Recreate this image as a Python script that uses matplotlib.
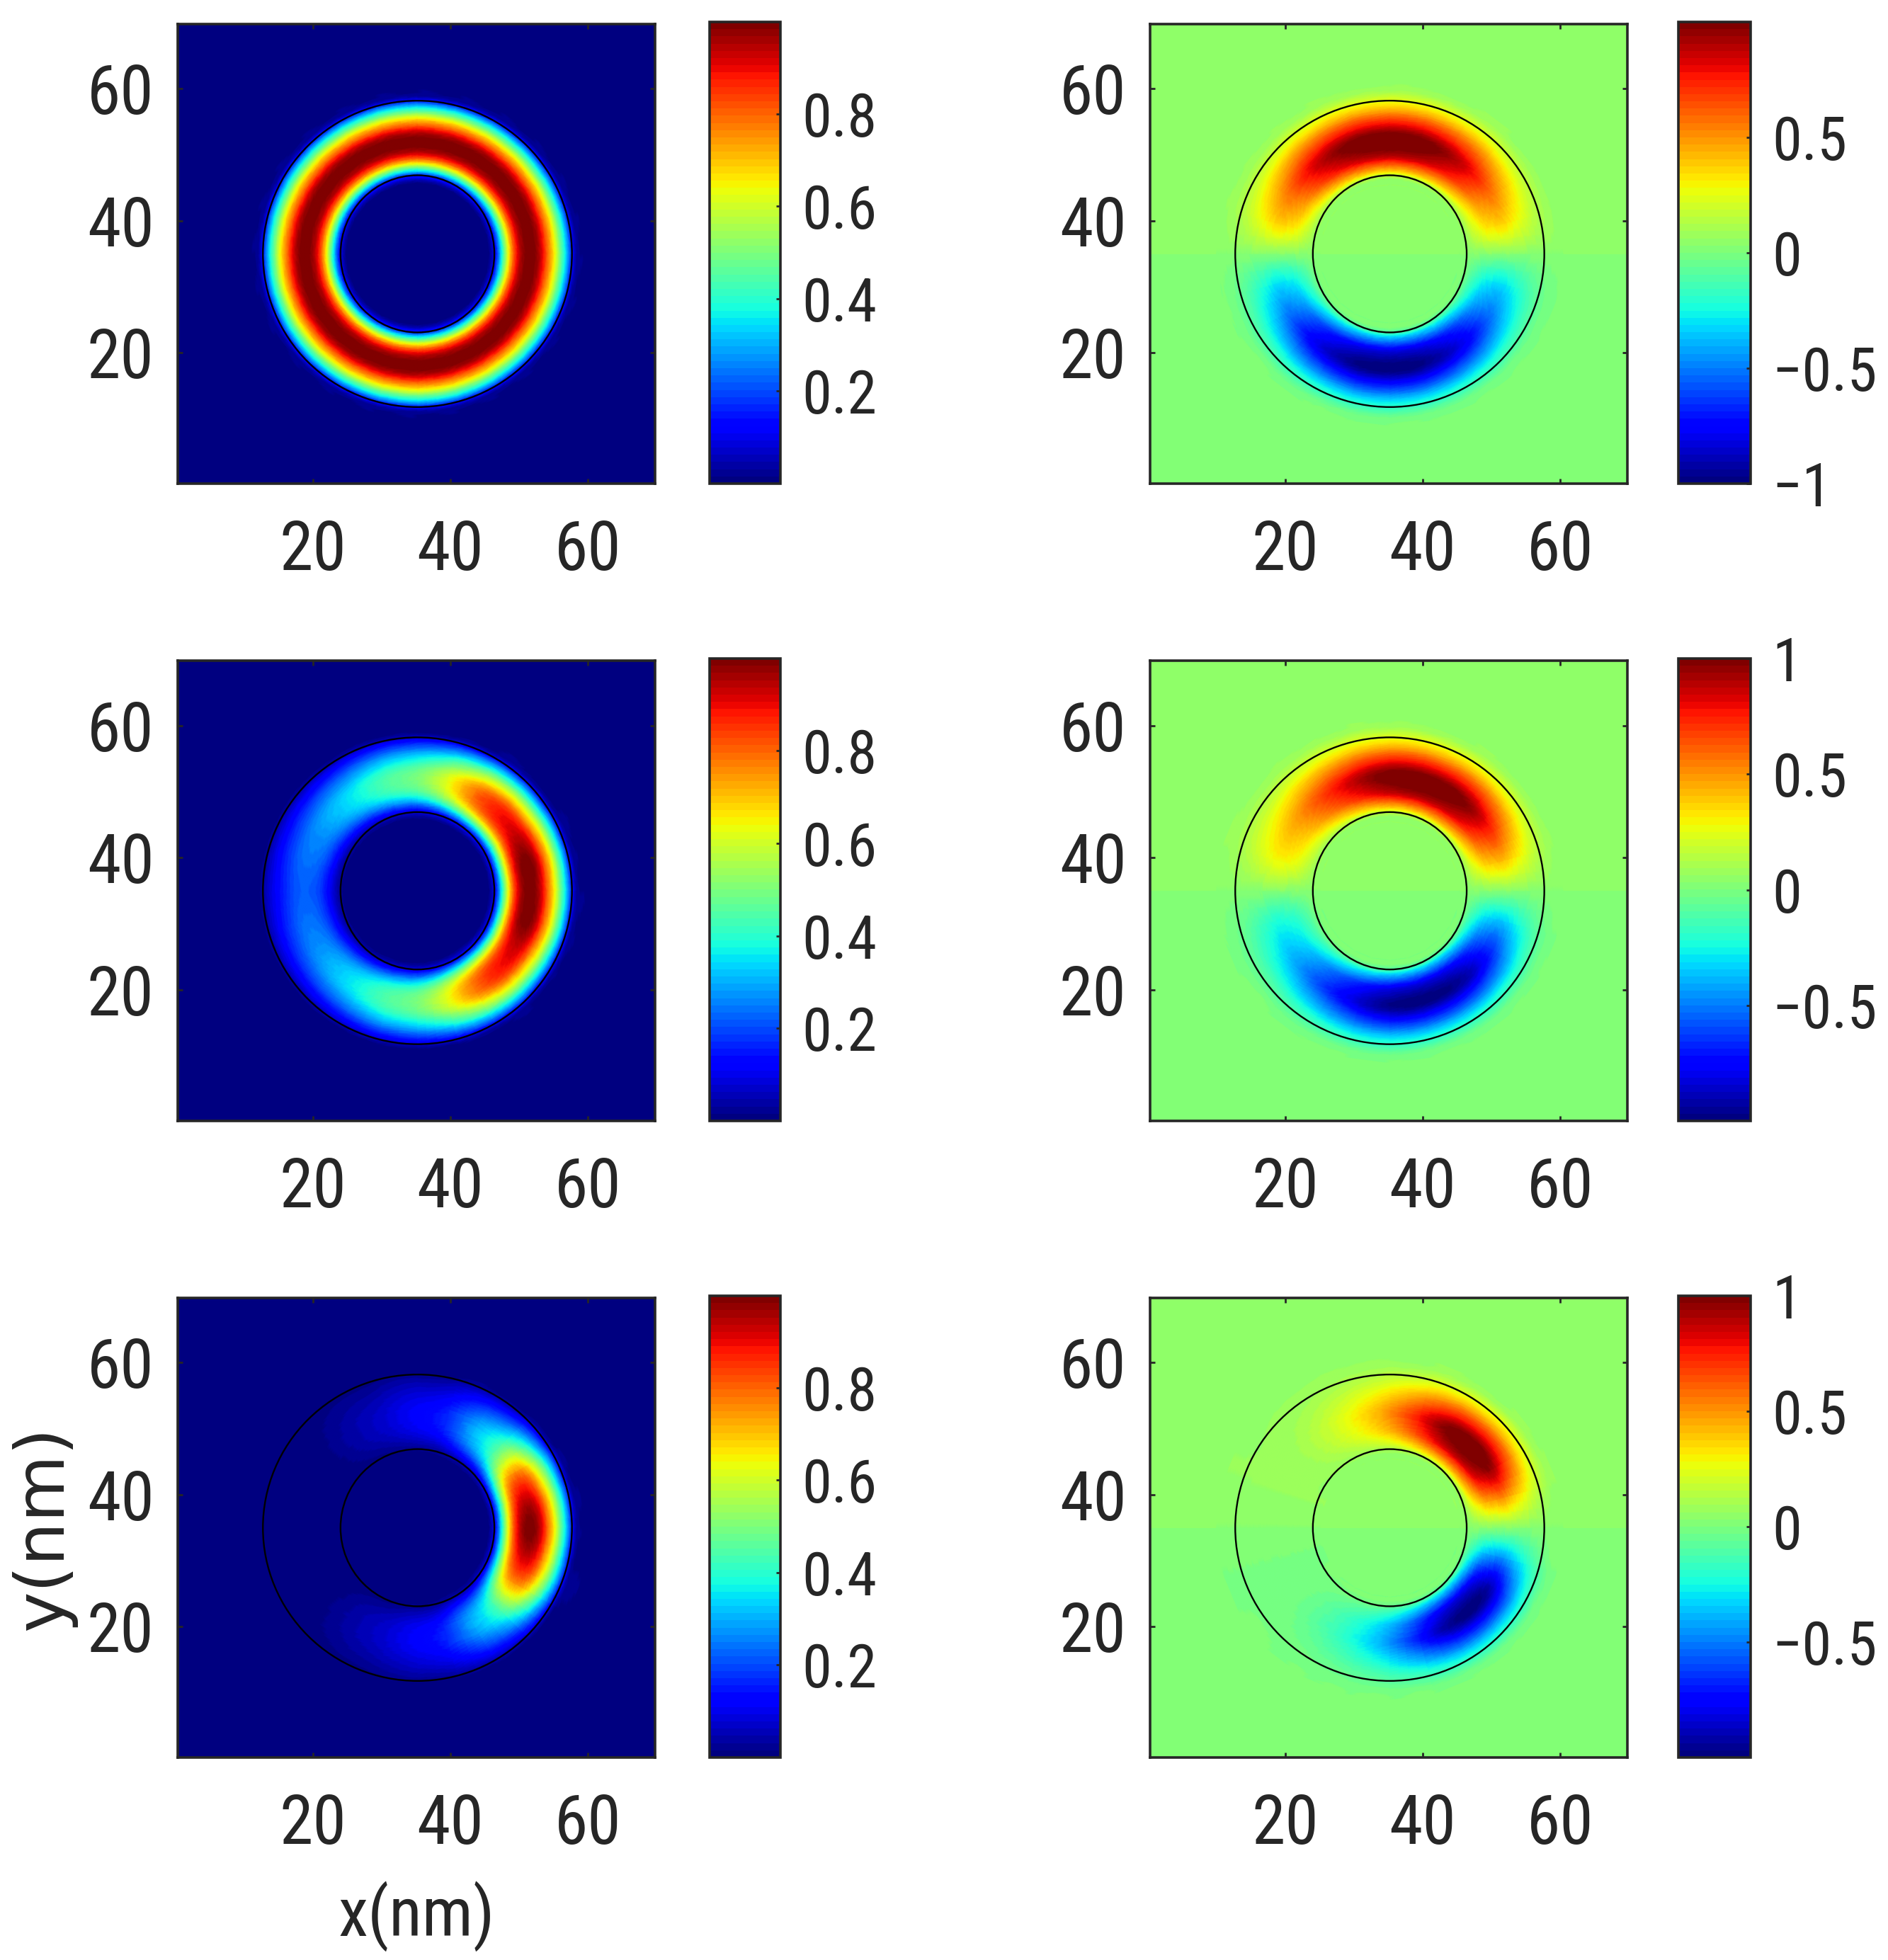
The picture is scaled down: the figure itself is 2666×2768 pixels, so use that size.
import matplotlib
matplotlib.use('Agg')
import matplotlib.pyplot as plt
import numpy as np
from matplotlib.cm import ScalarMappable
from matplotlib.colors import Normalize
from matplotlib.patches import Ellipse
from matplotlib.tri import Triangulation, UniformTriRefiner

# sample rings (nm from the centre) and sample angles (deg, upper half only)
RADII = [10.5, 11.5, 12.5, 13.5, 14.5, 15.5, 17.0, 18.5, 19.5, 20.5, 21.5, 22.5, 23.5, 24.5, 26.0]
ANGLES = [0, 15, 30, 45, 60, 75, 90, 105, 120, 135, 150, 165, 180]

# radial shape of the left and right columns
radial_density = [0, 0.10, 0.33, 0.60, 0.82, 0.95, 1.0, 0.93, 0.80, 0.66, 0.48, 0.30, 0.08, 0.015, 0]
radial_wave = [0, 0.03, 0.30, 0.55, 0.78, 0.90, 1.0, 0.90, 0.75, 0.60, 0.43, 0.28, 0.16, 0.05, 0]

# strength along the ring, one list per panel
density_top = [1, 1, 1, 1, 1, 1, 1, 1, 1, 1, 1, 1, 1]
density_mid = [1.0, 1.0, 0.93, 0.88, 0.78, 0.62, 0.50, 0.45, 0.38, 0.32, 0.27, 0.24, 0.22]
density_low = [1.0, 0.93, 0.75, 0.45, 0.30, 0.17, 0.12, 0.08, 0.05, 0.02, 0, 0, 0]
wave_top = [0, 0.30, 0.50, 0.72, 0.88, 0.98, 1.0, 0.98, 0.88, 0.72, 0.50, 0.30, 0]
wave_mid = [0, 0.35, 0.65, 0.88, 0.98, 1.0, 0.97, 0.85, 0.68, 0.50, 0.35, 0.22, 0]
wave_low = [0, 0.45, 0.88, 1.0, 0.93, 0.70, 0.45, 0.27, 0.14, 0.05, 0.01, 0, 0]

# background level above and below the middle line
density_bg = [0, 0]
wave_bg = [0.06, 0.0]

axis_ticks = [20, 40, 60]
density_ticks = [0.2, 0.4, 0.6, 0.8]
density_labels = ['0.2', '0.4', '0.6', '0.8']
wave_ticks_top = [-1, -0.5, 0, 0.5]
wave_labels_top = ['\u22121', '\u22120.5', '0', '0.5']
wave_ticks = [-0.5, 0, 0.5, 1]
wave_labels = ['\u22120.5', '0', '0.5', '1']

# ring outline, x and y scales of the source are slightly different
center = (35.2, 35.0)
outer_size = (45.0, 46.4)
inner_size = (22.4, 23.8)
x_squeeze = 22.5 / 23.2

W, H = 2666, 2768
ROW_TOP = [34, 933, 1833]
ROW_BOTTOM = [683, 1583, 2482]
DARK = '#262626'
NARROW = ['Roboto Condensed', 'Roboto', 'DejaVu Sans']
cmap = plt.get_cmap('jet', 64)


def px_axes(fig, left, top, right, bottom):
    return fig.add_axes([left / W, 1 - bottom / H, (right - left) / W, (bottom - top) / H])


def draw_panel(ax, radial, along_ring, bg, sign, vmin, vmax):
    # flat background, split at the middle line
    ax.pcolormesh([0, 71], [0, 35, 71], [[bg[1]], [bg[0]]], cmap=cmap, vmin=vmin, vmax=vmax)

    # angles from -180 up to 165, the +180 column is the same points as -180
    n_half = len(ANGLES) - 1
    theta = np.radians(np.r_[-np.array(ANGLES[:0:-1]), ANGLES[:-1]])
    strength = np.r_[sign * np.array(along_ring[:0:-1]), along_ring[:-1]]
    level = np.r_[np.full(n_half, bg[1]), np.full(n_half, bg[0])]
    level[0] = level[n_half] = np.mean(bg)

    rr, tt = np.meshgrid(RADII, theta, indexing='ij')
    xx = center[0] + x_squeeze * rr * np.cos(tt)
    yy = center[1] + rr * np.sin(tt)
    zz = level + np.outer(radial, strength)

    # triangles of the ring, so the hole stays open
    nr, nt = rr.shape
    triangles = []
    for i in range(nr - 1):
        for j in range(nt):
            a = i * nt + j
            b = i * nt + (j + 1) % nt
            triangles.append([a, b, a + nt])
            triangles.append([b, b + nt, a + nt])
    tri = Triangulation(xx.ravel(), yy.ravel(), triangles)
    fine_tri, fine_z = UniformTriRefiner(tri).refine_field(zz.ravel(), subdiv=3)
    ax.tripcolor(fine_tri, fine_z, shading='gouraud', cmap=cmap, vmin=vmin, vmax=vmax)

    ax.add_patch(Ellipse(center, *outer_size, fill=False, ec='black', lw=1.7))
    ax.add_patch(Ellipse(center, *inner_size, fill=False, ec='black', lw=1.7))

    ax.set_xlim(0.3, 69.8)
    ax.set_ylim(0.2, 69.8)
    ax.set_xticks(axis_ticks)
    ax.set_yticks(axis_ticks)
    ax.tick_params(direction='in', top=True, right=True, length=5, width=2, color=DARK,
                   labelcolor=DARK, labelsize=69, pad=24)
    ax.tick_params(axis='x', pad=36)
    for lab in ax.get_xticklabels() + ax.get_yticklabels():
        lab.set_family(NARROW)
    for spine in ax.spines.values():
        spine.set_linewidth(2.6)
        spine.set_color(DARK)


def draw_bar(fig, cax, vmin, vmax, ticks, labels):
    cb = fig.colorbar(ScalarMappable(Normalize(vmin, vmax), cmap), cax=cax)
    cb.set_ticks(ticks, labels=labels)
    cb.outline.set_linewidth(2.6)
    cb.outline.set_edgecolor(DARK)
    cax.tick_params(direction='in', length=4, width=2, color=DARK, labelcolor=DARK,
                    labelsize=61, pad=22)
    for lab in cax.get_yticklabels():
        lab.set_family(NARROW)


fig = plt.figure(figsize=(W / 100, H / 100), dpi=100, facecolor='white')

left_rows = [density_top, density_mid, density_low]
right_rows = [wave_top, wave_mid, wave_low]

for i in range(3):
    top, bottom = ROW_TOP[i], ROW_BOTTOM[i]

    ax = px_axes(fig, 251, top, 925, bottom)
    draw_panel(ax, radial_density, left_rows[i], density_bg, 1, 0, 0.999)
    cax = px_axes(fig, 1002, top - 3, 1102, bottom)
    draw_bar(fig, cax, 0, 0.999, density_ticks, density_labels)

    ax = px_axes(fig, 1624, top, 2298, bottom)
    draw_panel(ax, radial_wave, right_rows[i], wave_bg, -1, -1, 1)
    cax = px_axes(fig, 2370, top - 3, 2472, bottom)
    if i == 0:
        draw_bar(fig, cax, -1, 0.999, wave_ticks_top, wave_labels_top)
    else:
        draw_bar(fig, cax, -0.999, 1, wave_ticks, wave_labels)

fig.text(62 / W, 1 - 2158 / H, 'y(nm)', rotation=90, ha='center', va='center',
         fontsize=70, color=DARK, family='DejaVu Sans')
fig.text(588 / W, 1 - 2706 / H, 'x(nm)', ha='center', va='center',
         fontsize=69, color=DARK, family=NARROW)

fig.savefig('out.png', dpi=100)
